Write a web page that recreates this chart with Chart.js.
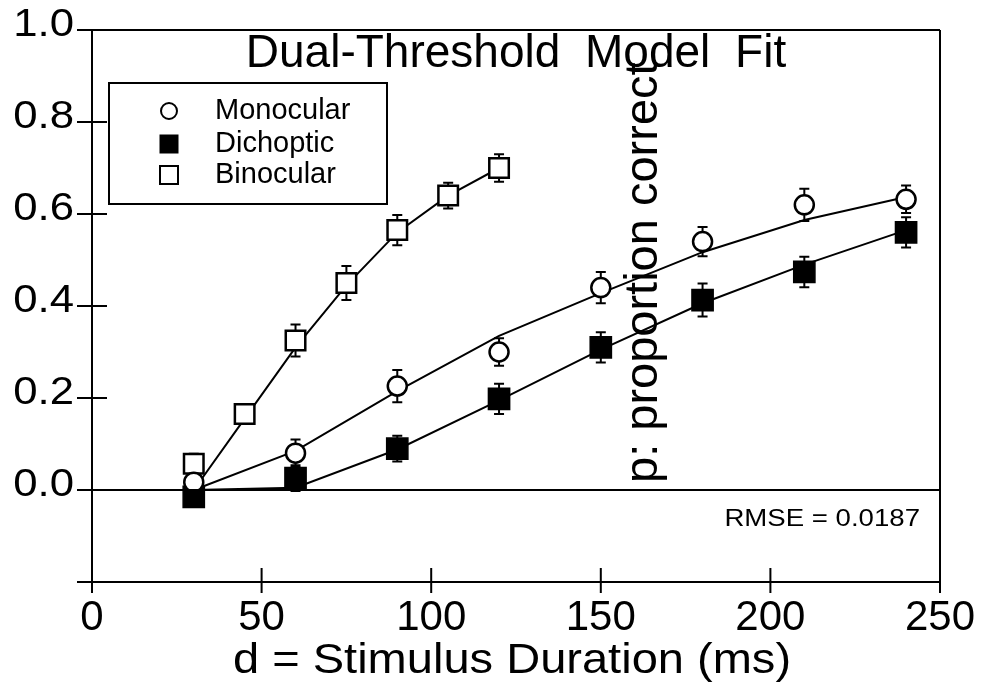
<!DOCTYPE html>
<html><head><meta charset="utf-8">
<script src="https://cdn.jsdelivr.net/npm/chart.js@4.4.0/dist/chart.umd.min.js"></script>
<style>html,body{margin:0;padding:0;background:#fff;overflow:hidden}#wrap{width:982px;height:696px}</style>
</head><body><div id="wrap"><canvas id="c" width="982" height="696"></canvas></div>
<script>
const durations = [30, 60, 90, 120, 150, 180, 210, 240];
const binocularDurations = [30, 45, 60, 75, 90, 105, 120];
const monocularValues = [0.017, 0.080, 0.226, 0.300, 0.440, 0.540, 0.620, 0.632];
const monocularErrors = [0.010, 0.030, 0.035, 0.030, 0.034, 0.032, 0.035, 0.030];
const dichopticValues = [-0.015, 0.026, 0.090, 0.198, 0.310, 0.413, 0.474, 0.560];
const dichopticErrors = [0.020, 0.028, 0.028, 0.033, 0.033, 0.036, 0.033, 0.033];
const binocularValues = [0.057, 0.165, 0.325, 0.450, 0.565, 0.640, 0.700];
const binocularErrors = [0.022, 0.010, 0.035, 0.037, 0.033, 0.028, 0.030];
const monocularFit = [0.0, 0.085, 0.215, 0.335, 0.428, 0.517, 0.587, 0.637];
const dichopticFit = [0.0, 0.005, 0.088, 0.195, 0.305, 0.406, 0.490, 0.565];
const binocularFit = [0.0, 0.155, 0.310, 0.445, 0.560, 0.640, 0.700];
const xTicks = [0, 50, 100, 150, 200, 250];
const xTickLabels = ['0', '50', '100', '150', '200', '250'];
const yTicks = [-0.2, 0.0, 0.2, 0.4, 0.6, 0.8, 1.0];
const yTickLabels = ['', '0.0', '0.2', '0.4', '0.6', '0.8', '1.0'];
const seriesNames = ['Monocular', 'Dichoptic', 'Binocular'];
const chartTitle = 'Dual-Threshold Model Fit';
const xTitle = 'd = Stimulus Duration (ms)';
const yTitle = 'p: proportion correct';
const rmseText = 'RMSE = 0.0187';

const FONT = '"Liberation Sans", Arial, Helvetica, sans-serif';
const pts = (xs, ys) => xs.map((x, i) => ({x: x, y: ys[i]}));

function txt(ctx, s, x, y, size, align, sx) {
  ctx.save();
  ctx.font = size + 'px ' + FONT;
  ctx.fillStyle = '#000';
  ctx.textBaseline = 'middle';
  ctx.textAlign = align;
  ctx.translate(x, y);
  ctx.scale(sx, 1);
  ctx.fillText(s, 0, 0);
  ctx.restore();
}

const errorBars = {
  id: 'errorBars',
  beforeDatasetsDraw(chart) {
    const ctx = chart.ctx, xs = chart.scales.x, ys = chart.scales.y;
    const sets = [[durations, monocularValues, monocularErrors],
                  [durations, dichopticValues, dichopticErrors],
                  [binocularDurations, binocularValues, binocularErrors]];
    ctx.save();
    ctx.strokeStyle = '#000';
    ctx.lineWidth = 2;
    sets.forEach(([X, V, E]) => {
      X.forEach((d, i) => {
        const px = xs.getPixelForValue(d);
        const top = ys.getPixelForValue(V[i] + E[i]);
        const bot = ys.getPixelForValue(V[i] - E[i]);
        ctx.beginPath();
        ctx.moveTo(px, top); ctx.lineTo(px, bot);
        ctx.moveTo(px - 5, top); ctx.lineTo(px + 5, top);
        ctx.moveTo(px - 5, bot); ctx.lineTo(px + 5, bot);
        ctx.stroke();
      });
    });
    ctx.restore();
  }
};

const decor = {
  id: 'decor',
  afterDraw(chart) {
    const ctx = chart.ctx, xs = chart.scales.x, ys = chart.scales.y;
    const a = chart.chartArea;
    ctx.save();
    ctx.strokeStyle = '#000';
    ctx.lineWidth = 2;
    ctx.beginPath();
    ctx.moveTo(a.left - 1, a.top); ctx.lineTo(a.right, a.top);
    ctx.moveTo(a.right, a.top); ctx.lineTo(a.right, a.bottom + 8);
    ctx.moveTo(a.left, a.top); ctx.lineTo(a.left, a.bottom + 2);
    ctx.moveTo(a.left - 14, a.bottom); ctx.lineTo(a.right, a.bottom);
    const y0 = ys.getPixelForValue(0);
    ctx.moveTo(a.left - 14, y0); ctx.lineTo(a.right, y0);
    yTicks.forEach(v => {
      const py = ys.getPixelForValue(v);
      ctx.moveTo(a.left - 15, py); ctx.lineTo(a.left + 15, py);
    });
    xTicks.forEach(v => {
      const px = xs.getPixelForValue(v);
      ctx.moveTo(px, a.bottom - 14); ctx.lineTo(px, a.bottom + 11);
    });
    ctx.stroke();

    yTicks.forEach((v, i) => {
      txt(ctx, yTickLabels[i], a.left - 18, ys.getPixelForValue(v) - 4, 38, 'right', 1.15);
    });
    xTicks.forEach((v, i) => {
      txt(ctx, xTickLabels[i], xs.getPixelForValue(v), a.bottom + 36, 42, 'center', 1.0);
    });
    txt(ctx, xTitle, 512, 661, 42, 'center', 1.12);
    ctx.save();
    try { ctx.wordSpacing = '12px'; } catch (e) {}
    txt(ctx, chartTitle, 516, 54, 46, 'center', 1.0);
    ctx.restore();
    txt(ctx, rmseText, 920, 520, 23, 'right', 1.2);

    ctx.lineWidth = 2;
    ctx.strokeRect(109, 83, 278, 121);
    const ly = [111, 144, 175];
    const mx = 169;
    ctx.fillStyle = '#fff';
    ctx.beginPath(); ctx.arc(mx, ly[0], 8, 0, Math.PI * 2); ctx.fill(); ctx.stroke();
    ctx.fillStyle = '#000';
    ctx.fillRect(mx - 9.5, ly[1] - 9.5, 19, 19);
    ctx.fillStyle = '#fff';
    ctx.fillRect(mx - 9, ly[2] - 9, 18, 18);
    ctx.strokeRect(mx - 9, ly[2] - 9, 18, 18);
    seriesNames.forEach((n, i) => txt(ctx, n, 215, ly[i], 29, 'left', 1.0));

    ctx.save();
    ctx.translate(644, 483);
    ctx.rotate(-Math.PI / 2);
    ctx.font = '47px ' + FONT;
    ctx.fillStyle = '#000';
    ctx.textBaseline = 'middle';
    ctx.textAlign = 'left';
    ctx.fillText(yTitle, 0, 0);
    ctx.restore();
    ctx.restore();
  }
};

new Chart(document.getElementById('c'), {
  type: 'scatter',
  data: {
    datasets: [
      {label: seriesNames[0], data: pts(durations, monocularValues), pointStyle: 'circle', pointRadius: 9.5,
       pointBackgroundColor: '#fff', pointBorderColor: '#000', pointBorderWidth: 2.5, showLine: false},
      {label: seriesNames[1], data: pts(durations, dichopticValues), pointStyle: 'rect', pointRadius: 15,
       pointBackgroundColor: '#000', pointBorderColor: '#000', pointBorderWidth: 1.5, showLine: false},
      {label: seriesNames[2], data: pts(binocularDurations, binocularValues), pointStyle: 'rect', pointRadius: 13.8,
       pointBackgroundColor: '#fff', pointBorderColor: '#000', pointBorderWidth: 2.5, showLine: false},
      {label: 'Monocular fit', data: pts(durations, monocularFit), showLine: true, pointRadius: 0,
       borderColor: '#000', borderWidth: 2, tension: 0},
      {label: 'Dichoptic fit', data: pts(durations, dichopticFit), showLine: true, pointRadius: 0,
       borderColor: '#000', borderWidth: 2, tension: 0},
      {label: 'Binocular fit', data: pts(binocularDurations, binocularFit), showLine: true, pointRadius: 0,
       borderColor: '#000', borderWidth: 2, tension: 0}
    ]
  },
  options: {
    responsive: false,
    animation: false,
    devicePixelRatio: 1,
    layout: {padding: {left: 0, right: 42, top: 30, bottom: 0}},
    plugins: {legend: {display: false}, tooltip: {enabled: false}, title: {display: false}},
    scales: {
      x: {type: 'linear', min: 0, max: 250,
          grid: {display: false}, border: {display: false}, ticks: {display: false},
          afterFit(s) { s.height = 114; }},
      y: {type: 'linear', min: -0.2, max: 1.0,
          grid: {display: false}, border: {display: false}, ticks: {display: false},
          afterFit(s) { s.width = 92; }}
    }
  },
  plugins: [errorBars, decor]
});
</script>
</body></html>
